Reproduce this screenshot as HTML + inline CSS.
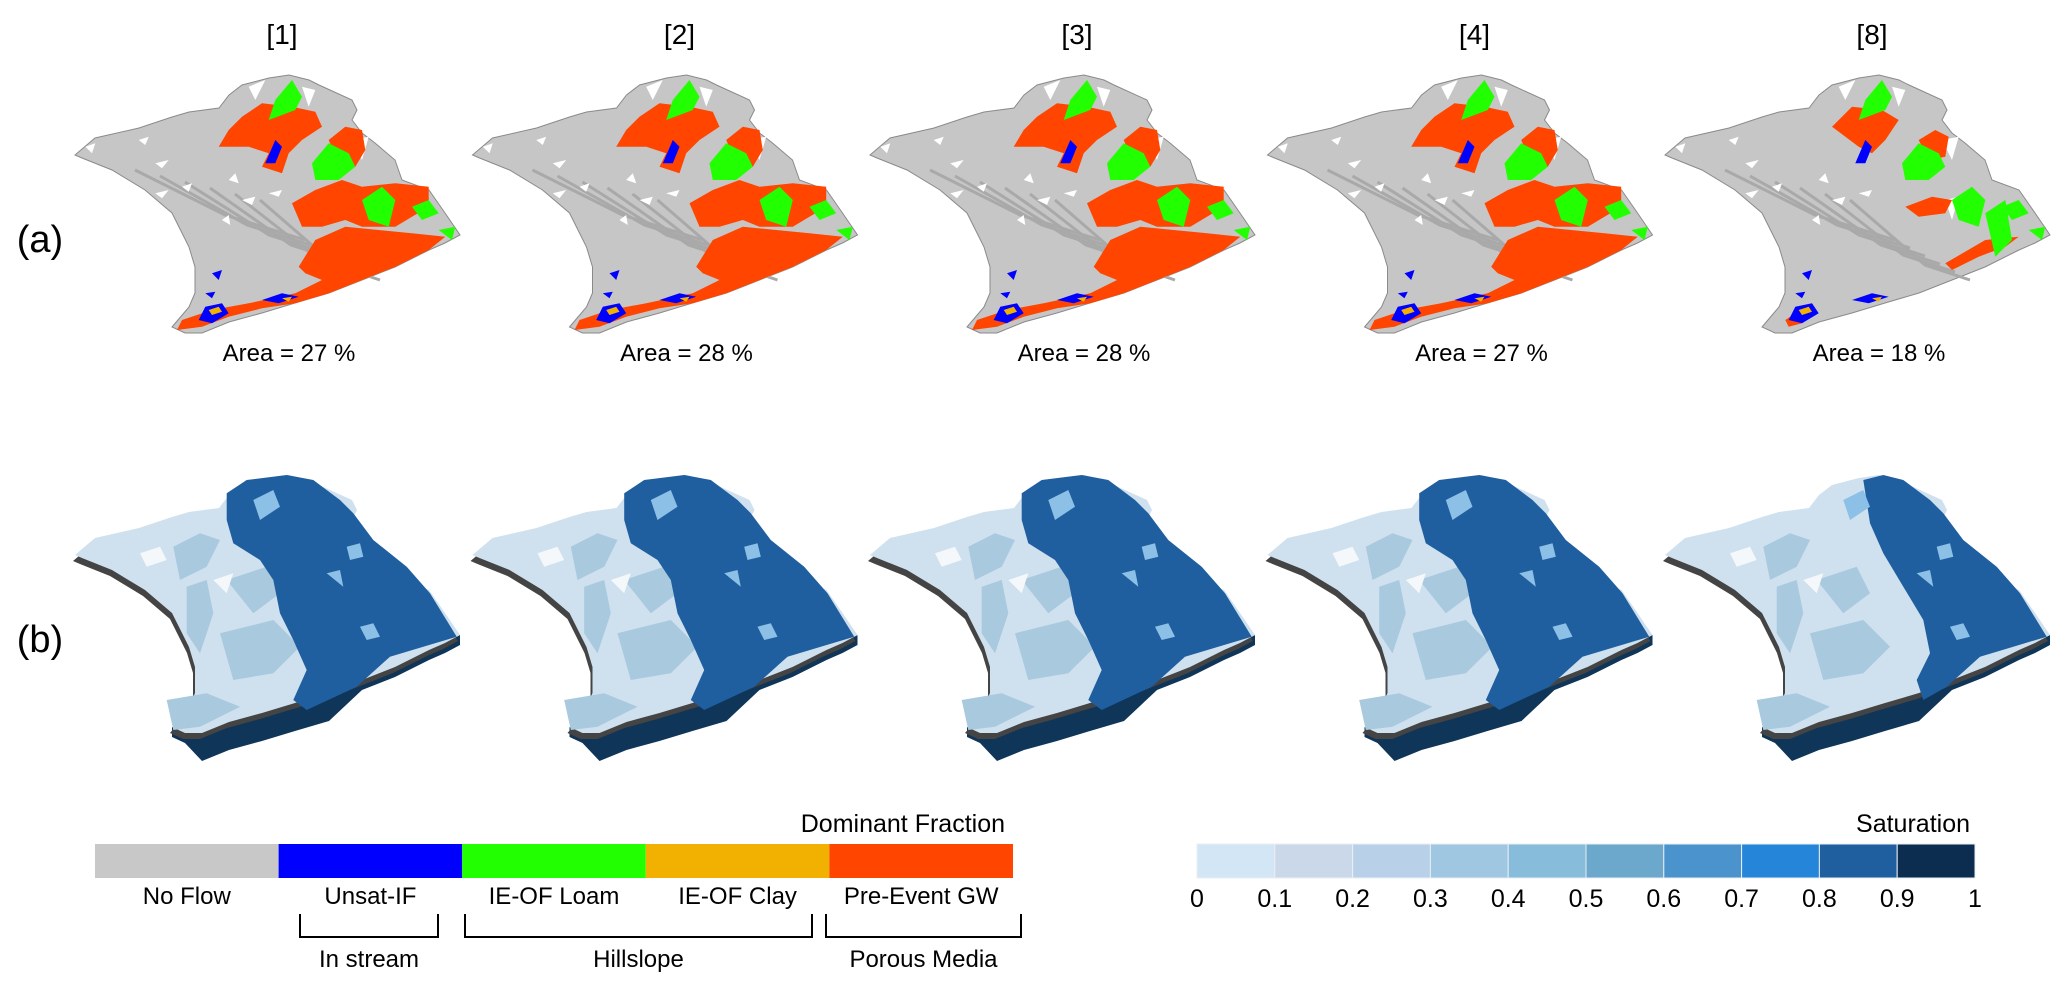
<!DOCTYPE html>
<html><head><meta charset="utf-8">
<style>
html,body{margin:0;padding:0;background:#fff;}
svg{display:block;font-family:"Liberation Sans",Arial,sans-serif;}
</style></head>
<body>
<svg id="fig" width="2067" height="990" viewBox="0 0 2067 990" xmlns="http://www.w3.org/2000/svg">
<rect width="2067" height="990" fill="#fff"/>
<g id="maps"></g>
<text x="40" y="252" font-size="38" text-anchor="middle">(a)</text>
<text x="40" y="652" font-size="38" text-anchor="middle">(b)</text>
<g id="legend1"></g>
<g id="legend2"></g>
</svg>
<script>
const panelLabels = ["[1]","[2]","[3]","[4]","[8]"];
const areaValues = [27, 28, 28, 27, 18];
const fractionCategories = ["No Flow","Unsat-IF","IE-OF Loam","IE-OF Clay","Pre-Event GW"];
const fractionColors = ["#c8c8c8","#0000ff","#22ff00","#f2b100","#ff4500"];
const saturationTicks = ["0","0.1","0.2","0.3","0.4","0.5","0.6","0.7","0.8","0.9","1"];
const saturationColors = ["#d3e6f5","#cbd8ea","#b9d1e8","#9fc7e1","#87bcda","#6ca7cc","#4b93cd","#2586d9","#1f5fa0","#0c2d50"];
const groups = [["In stream",1,1],["Hillslope",2,3],["Porous Media",4,4]];

const NS="http://www.w3.org/2000/svg";
function mk(tag,attrs,parent){const e=document.createElementNS(NS,tag);for(const k in attrs)e.setAttribute(k,attrs[k]);parent.appendChild(e);return e;}
const A=(l)=>l.map(p=>[p[0]/3-13,p[1]/3+40]);
const B=(l)=>l.map(p=>[p[0]/3-35,p[1]/3-20]);
const pts=(l,dx,dy)=>l.map(p=>(p[0]+dx).toFixed(1)+","+(p[1]+dy).toFixed(1)).join(" ");

const outline=[[0,155],[20,138],[64,128],[97,117],[114,112],[144,108],[154,95],[167,85],[194,78],[214,75],[234,80],[244,85],[277,100],[282,110],[277,120],[287,133],[300,143],[320,160],[327,180],[354,190],[370,213],[385,235],[370,243],[354,250],[320,267],[287,280],[254,293],[220,303],[187,313],[154,322],[127,333],[110,333],[97,327],[114,307],[120,293],[120,267],[114,247],[97,213],[70,190],[37,170],[7,158]];
const redFull=[
 A([[470,320],[500,270],[540,230],[600,190],[690,200],[760,215],[780,260],[720,300],[680,340],[660,400],[600,380],[620,340],[560,320]]),
 A([[800,300],[850,260],[900,270],[910,330],[880,380],[830,370]]),
 A([[690,490],[760,450],[840,420],[900,440],[1000,430],[1100,440],[1100,500],[1000,560],[900,560],[850,540],[780,560],[720,560]]),
 A([[710,680],[760,600],[850,560],[950,570],[1050,580],[1150,590],[1100,630],[1000,680],[900,720],[800,760],[700,790],[600,805],[500,830],[420,860],[345,870],[360,840],[450,810],[560,790],[700,760],[780,720],[730,700]])];
const redSmall=[
 A([[540,260],[600,200],[690,210],[740,240],[700,300],[660,340],[620,320]]),
 A([[800,300],[850,270],[890,290],[880,350],[830,360]]),
 A([[760,500],[840,470],[900,480],[880,520],[800,530]]),
 A([[1000,600],[1100,590],[1060,620],[980,650],[900,690],[880,670]]),
 A([[400,840],[430,820],[450,850],[410,860]])];
const green=[
 A([[640,180],[690,120],[720,170],[700,210],[620,240]]),
 A([[750,370],[800,310],[860,340],[880,380],[830,420],[760,420]]),
 A([[900,480],[960,440],[1000,480],[980,560],[920,540]]),
 A([[1050,500],[1100,480],[1130,520],[1080,540]]),
 A([[1130,570],[1180,560],[1170,600]])];
const blue=[A([[610,370],[640,300],[660,320],[640,370]]),A([[410,840],[430,800],[480,790],[500,820],[450,850]]),A([[600,780],[660,760],[710,770],[650,790]]),A([[450,700],[480,690],[470,720]]),A([[430,760],[460,755],[450,775]])];
const orange=[A([[440,810],[470,800],[480,815],[450,825]]),A([[660,775],[690,770],[680,785]])];
const whites=[A([[230,300],[260,290],[250,315]]),A([[280,370],[320,360],[300,385]]),A([[360,440],[390,430],[380,455]]),A([[500,420],[520,400],[530,430]]),A([[280,460],[320,450],[300,475]]),A([[540,480],[580,470],[570,495]]),A([[480,540],[500,525],[505,555]]),A([[560,140],[610,120],[580,180]]),A([[870,300],[920,290],[900,360]]),A([[880,480],[920,470],[900,540]]),A([[720,140],[760,150],[740,200]]),A([[620,460],[660,450],[650,470]]),A([[70,320],[100,310],[90,340]])];
const darkB=B([[560,340],[620,300],[740,285],[820,300],[900,360],[940,400],[1000,480],[1100,560],[1170,640],[1250,770],[1150,800],[1050,830],[950,920],[800,990],[760,960],[800,870],[760,780],[720,700],[700,600],[660,540],[580,490],[560,420]]);
const darkB8=B([[700,300],[760,285],[820,300],[900,360],[940,400],[1000,480],[1100,560],[1170,640],[1250,770],[1150,800],[1050,830],[950,920],[880,960],[860,900],[900,820],[880,720],[820,620],[760,520],[720,430]]);
const midB=[B([[400,500],[480,460],[540,480],[500,560],[420,600]]),B([[440,620],[500,600],[520,700],[480,820],[440,760]]),B([[560,600],[680,560],[720,640],[640,700]]),B([[540,760],[700,720],[780,800],[700,880],[580,900]]),B([[380,960],[500,940],[600,980],[480,1040],[400,1050]])];
const hiB=[B([[640,360],[700,330],[720,380],[660,420]]),B([[920,500],[960,490],[970,530],[930,540]]),B([[960,740],[1000,730],[1020,770],[980,780]]),B([[860,580],[900,570],[910,620]])];

const g=document.getElementById('maps');
for(let i=0;i<panelLabels.length;i++){
  const dx=75+397.5*i;
  const cx=dx+207;
  const t=mk('text',{x:cx,y:44,'font-size':28,'text-anchor':'middle'},g);
  
  
  t.textContent=panelLabels[i];
  const ga=mk('g',{},g);
  
  
  mk('polygon',{points:pts(outline,dx,0),fill:'#c6c6c6',stroke:'#8a8a8a','stroke-width':1},ga);
  for(let k=0;k<6;k++){mk('polyline',{points:pts([[60+k*25,170+k*6],[150+k*22,215+k*10],[230+k*15,240+k*8]],dx,0),fill:'none',stroke:'#a9a9a9','stroke-width':3},ga);}
  whites.forEach(w=>mk('polygon',{points:pts(w,dx,0),fill:'#fff'},ga));
  const reds=(i===4)?redSmall:redFull;
  reds.forEach(r=>mk('polygon',{points:pts(r,dx,0),fill:fractionColors[4]},ga));
  green.forEach((r,j)=>{ if(i===4 && j===2){mk('polygon',{points:pts(A([[1000,520],[1060,480],[1080,600],[1030,650]]),dx,0),fill:fractionColors[2]},ga);} mk('polygon',{points:pts(r,dx,0),fill:fractionColors[2]},ga);});
  blue.forEach(r=>mk('polygon',{points:pts(r,dx,0),fill:fractionColors[1]},ga));
  orange.forEach(r=>mk('polygon',{points:pts(r,dx,0),fill:fractionColors[3]},ga));
  const at=mk('text',{x:dx+214,y:361,'font-size':24,'text-anchor':'middle'},g);
  
  
  at.textContent='Area = '+areaValues[i]+' %';
  const gb=mk('g',{},g);
  
  
  const dy=400;
  const bottom=outline.slice(21,33);
  const base=bottom.concat(bottom.slice().reverse().map(p=>[p[0],p[1]+ (p[0]>120&&p[0]<260?28:10)]));
  mk('polygon',{points:pts(base,dx,dy),fill:'#0f3558'},gb);
  mk('polygon',{points:pts(outline,dx-2,dy+6),fill:'#444'},gb);
  mk('polygon',{points:pts(outline,dx,dy),fill:'#cfe0ee'},gb);
  midB.forEach(m=>mk('polygon',{points:pts(m,dx,dy),fill:'#a9c9df'},gb));
  mk('polygon',{points:pts((i===4)?darkB8:darkB,dx,dy),fill:'#1f5fa0'},gb);
  hiB.forEach(m=>mk('polygon',{points:pts(m,dx,dy),fill:'#8cc0e6'},gb));
  mk('polygon',{points:pts(B([[300,520],[360,500],[380,540],[320,560]]),dx,dy),fill:'#f4f8fb'},gb);
  mk('polygon',{points:pts(B([[520,600],[580,580],[560,640]]),dx,dy),fill:'#f4f8fb'},gb);
}

const l1=document.getElementById('legend1');
const lx0=95, segW=183.6, ly=844, lh=34;
const ttl=mk('text',{x:1005,y:832,'font-size':25,'text-anchor':'end'},l1);


ttl.textContent='Dominant Fraction';
fractionCategories.forEach((c,i)=>{
  const r=mk('rect',{x:lx0+i*segW,y:ly,width:segW,height:lh,fill:fractionColors[i]},l1);
  
  
  const t=mk('text',{x:lx0+i*segW+segW/2,y:904,'font-size':24,'text-anchor':'middle'},l1);
  
  
  t.textContent=c;
});
const brk=[[300,438],[465,812],[826,1021]];
groups.forEach((gr,i)=>{
  const [a,b]=brk[i];
  const p=mk('polyline',{points:`${a},914 ${a},937 ${b},937 ${b},914`,fill:'none',stroke:'#000','stroke-width':2},l1);
  
  
  const t=mk('text',{x:(a+b)/2,y:967,'font-size':24,'text-anchor':'middle'},l1);
  
  
  t.textContent=gr[0];
});

const l2=document.getElementById('legend2');
const sx0=1197, sx1=1975, sw=(sx1-sx0)/saturationColors.length;
const st=mk('text',{x:1970,y:832,'font-size':25,'text-anchor':'end'},l2);


st.textContent='Saturation';
saturationColors.forEach((c,i)=>{
  const r=mk('rect',{x:sx0+i*sw,y:ly,width:sw,height:lh,fill:c,stroke:'#e8eef4','stroke-width':1},l2);
  
  
});
saturationTicks.forEach((s,i)=>{
  const t=mk('text',{x:sx0+i*sw,y:907,'font-size':25,'text-anchor':'middle'},l2);
  
  
  t.textContent=s;
});
</script>
</body></html>
